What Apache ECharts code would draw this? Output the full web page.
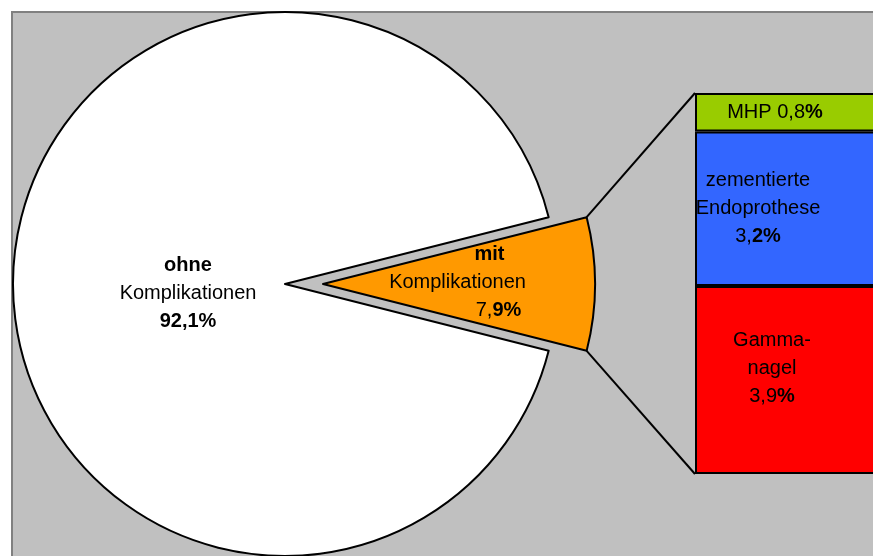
<!DOCTYPE html>
<html>
<head>
<meta charset="utf-8">
<script src="https://cdn.jsdelivr.net/npm/echarts@6/dist/echarts.min.js"></script>
<style>html,body{margin:0;padding:0;background:#fff}#c{width:873px;height:556px}</style>
</head>
<body>
<div id="c"></div>
<script>
// ---- data ----
const pieNames = ['mit Komplikationen', 'ohne Komplikationen'];
const pieValues = [7.9, 92.1];
const barNames = ['Gammanagel', 'zementierte Endoprothese', 'MHP'];
const barValues = [3.9, 3.2, 0.8];
const barColors = ['#FF0000', '#3366FF', '#99CC00'];
const pieColors = ['#FF9900', '#FFFFFF'];

// ---- layout ----
const FONT = 'Liberation Sans, Arial, sans-serif';
const pieCx = 285, pieCy = 284, pieR = 272, explode = 38;
const gridLeft = 695, gridTop = 93, gridH = 381, gridW = 260;

function fmt(v) { return v.toFixed(1).replace('.', ','); }
const sumPie = pieValues.reduce((a, b) => a + b, 0);
const sumBar = barValues.reduce((a, b) => a + b, 0);

const txt = (w) => ({ fontFamily: FONT, fontSize: 20, lineHeight: 28, color: '#000', fontWeight: w });
const rich = {
  n: txt('normal'), b: txt('bold'),
  nm: Object.assign(txt('normal'), { padding: [0, 0, 0, 82] }),
  bm: Object.assign(txt('bold'), { padding: [0, 0, 0, 64] })
};

function splitVal(v) { const s = fmt(v); const i = s.indexOf(','); return [s.slice(0, i + 1), s.slice(i + 1)]; }

const chart = echarts.init(document.getElementById('c'), null, { renderer: 'canvas' });

const mitParts = splitVal(pieValues[0]);
const pieData = [
  {
    name: pieNames[0], value: pieValues[0], selected: true,
    itemStyle: { color: pieColors[0] },
    select: { itemStyle: { color: pieColors[0], borderColor: '#000', borderWidth: 2 } },
    label: { formatter: '{bm|mit}\n{n|Komplikationen}\n{nm|' + mitParts[0] + '}{b|' + mitParts[1] + '%}' }
  },
  {
    name: pieNames[1], value: pieValues[1],
    itemStyle: { color: pieColors[1] },
    label: { formatter: '{b|ohne}\n{n|Komplikationen}\n{b|' + fmt(pieValues[1]) + '%}' }
  }
];

const barLabelPos = [[77, 83], [63, 77], [80, 19]];
const zp = splitVal(barValues[1]);
const barFormatters = [
  '{n|Gamma-}\n{n|nagel}\n{n|' + fmt(barValues[0]) + '}{b|%}',
  '{n|zementierte}\n{n|Endoprothese}\n{n|' + zp[0] + '}{b|' + zp[1] + '%}',
  '{n|MHP ' + fmt(barValues[2]) + '}{b|%}'
];

const barSeries = barValues.map((v, i) => ({
  type: 'bar', name: barNames[i], stack: 'k', data: [v], barWidth: '100%',
  itemStyle: { color: barColors[i], borderColor: '#000', borderWidth: 2 },
  emphasis: { disabled: true },
  label: {
    show: true, position: barLabelPos[i], align: 'center', verticalAlign: 'middle',
    formatter: barFormatters[i], rich: rich, fontFamily: FONT, fontSize: 20, lineHeight: 28, color: '#000'
  },
  animation: false, silent: true
}));

chart.setOption({
  backgroundColor: '#FFFFFF',
  animation: false,
  grid: { left: gridLeft, top: gridTop, width: gridW, height: gridH, containLabel: false, outerBoundsMode: 'none' },
  xAxis: { type: 'category', data: ['k'], show: false, boundaryGap: true },
  yAxis: { type: 'value', min: 0, max: sumBar, show: false },
  series: [
    {
      type: 'pie', center: [pieCx, pieCy], radius: pieR,
      startAngle: pieValues[0] / sumPie * 180, clockwise: true,
      selectedMode: 'single', selectedOffset: explode,
      avoidLabelOverlap: false, silent: true, animation: false,
      emphasis: { disabled: true },
      itemStyle: { borderColor: '#000', borderWidth: 2 },
      label: { show: true, position: 'inside', rich: rich, fontFamily: FONT, fontSize: 20, lineHeight: 28, color: '#000' },
      labelLine: { show: false },
      labelLayout: function (p) {
        if (p.dataIndex === 1) return { dx: 21, dy: 4.5 };
        return { dx: -4.5, dy: -1.5 };
      },
      data: pieData
    }
  ].concat(barSeries)
});

// connector lines computed from pie geometry and bar axis
const half = pieValues[0] / sumPie * Math.PI;
const ocx = pieCx + explode;
const topCorner = [ocx + pieR * Math.cos(half), pieCy - pieR * Math.sin(half)];
const botCorner = [ocx + pieR * Math.cos(half), pieCy + pieR * Math.sin(half)];
const yTop = chart.convertToPixel({ yAxisIndex: 0 }, sumBar);
const yBot = chart.convertToPixel({ yAxisIndex: 0 }, 0);

chart.setOption({
  graphic: [
    { type: 'rect', z: -10, silent: true, shape: { x: 12, y: 12, width: 1000, height: 700 },
      style: { fill: '#C0C0C0', stroke: '#808080', lineWidth: 2 } },
    { type: 'line', z: 10, silent: true, shape: { x1: topCorner[0], y1: topCorner[1], x2: gridLeft, y2: yTop },
      style: { stroke: '#000', lineWidth: 2 } },
    { type: 'line', z: 10, silent: true, shape: { x1: botCorner[0], y1: botCorner[1], x2: gridLeft, y2: yBot },
      style: { stroke: '#000', lineWidth: 2 } }
  ]
});
</script>
</body>
</html>
